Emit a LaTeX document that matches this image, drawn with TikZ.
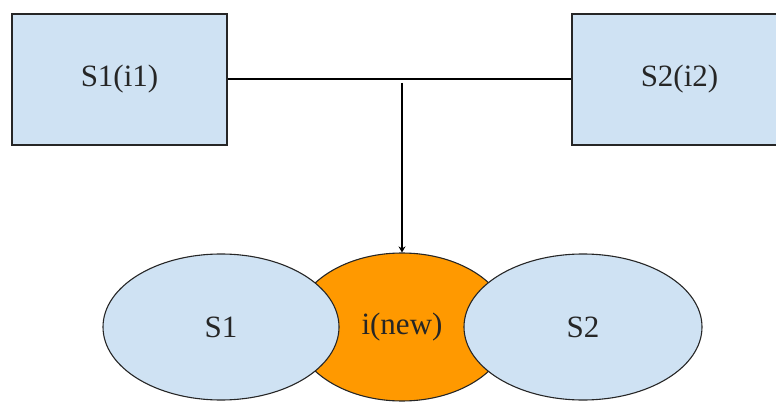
\documentclass[tikz,border=0pt]{standalone}
\usepackage{fontspec}
\setmainfont{Liberation Serif}
\usetikzlibrary{shapes.geometric,arrows.meta}
\definecolor{lblue}{HTML}{CFE2F3}
\definecolor{orng}{HTML}{FF9900}
\definecolor{edge}{HTML}{262626}
\begin{document}
\begin{tikzpicture}[x=1pt,y=-1pt,
  lbl/.style={font=\fontsize{31}{36}\selectfont, text=black!85},
  box/.style={draw=edge, line width=1.4pt, fill=lblue, minimum width=215pt, minimum height=131pt, inner sep=0pt, lbl},
  oval/.style={draw=edge, line width=1.1pt, ellipse, inner sep=0pt, lbl},
  conn/.style={draw=black, line width=1.2pt}]
\useasboundingbox (0,0) rectangle (776,403);
\begin{scope}
\clip (0,0) rectangle (776,403);
\node[box] (b1) at (119.5,79.5) {S1(i1)};
\node[box] (b2) at (679.5,79.5) {S2(i2)};
\node[oval, fill=orng, minimum width=216pt, minimum height=148pt] (inew) at (402,327) {i(new)};
\node[oval, fill=lblue, minimum width=236pt, minimum height=146pt] (s1) at (221,327) {S1};
\node[oval, fill=lblue, minimum width=238pt, minimum height=146pt] (s2) at (583,327) {S2};
\coordinate (j) at (402,79);
\draw[conn] (b1.east |- j) -- (b2.west |- j);
\draw[conn, -{Stealth[length=6pt,width=7pt]}] ([yshift=-4pt]j) -- (inew.north);
\end{scope}
\end{tikzpicture}
\end{document}
